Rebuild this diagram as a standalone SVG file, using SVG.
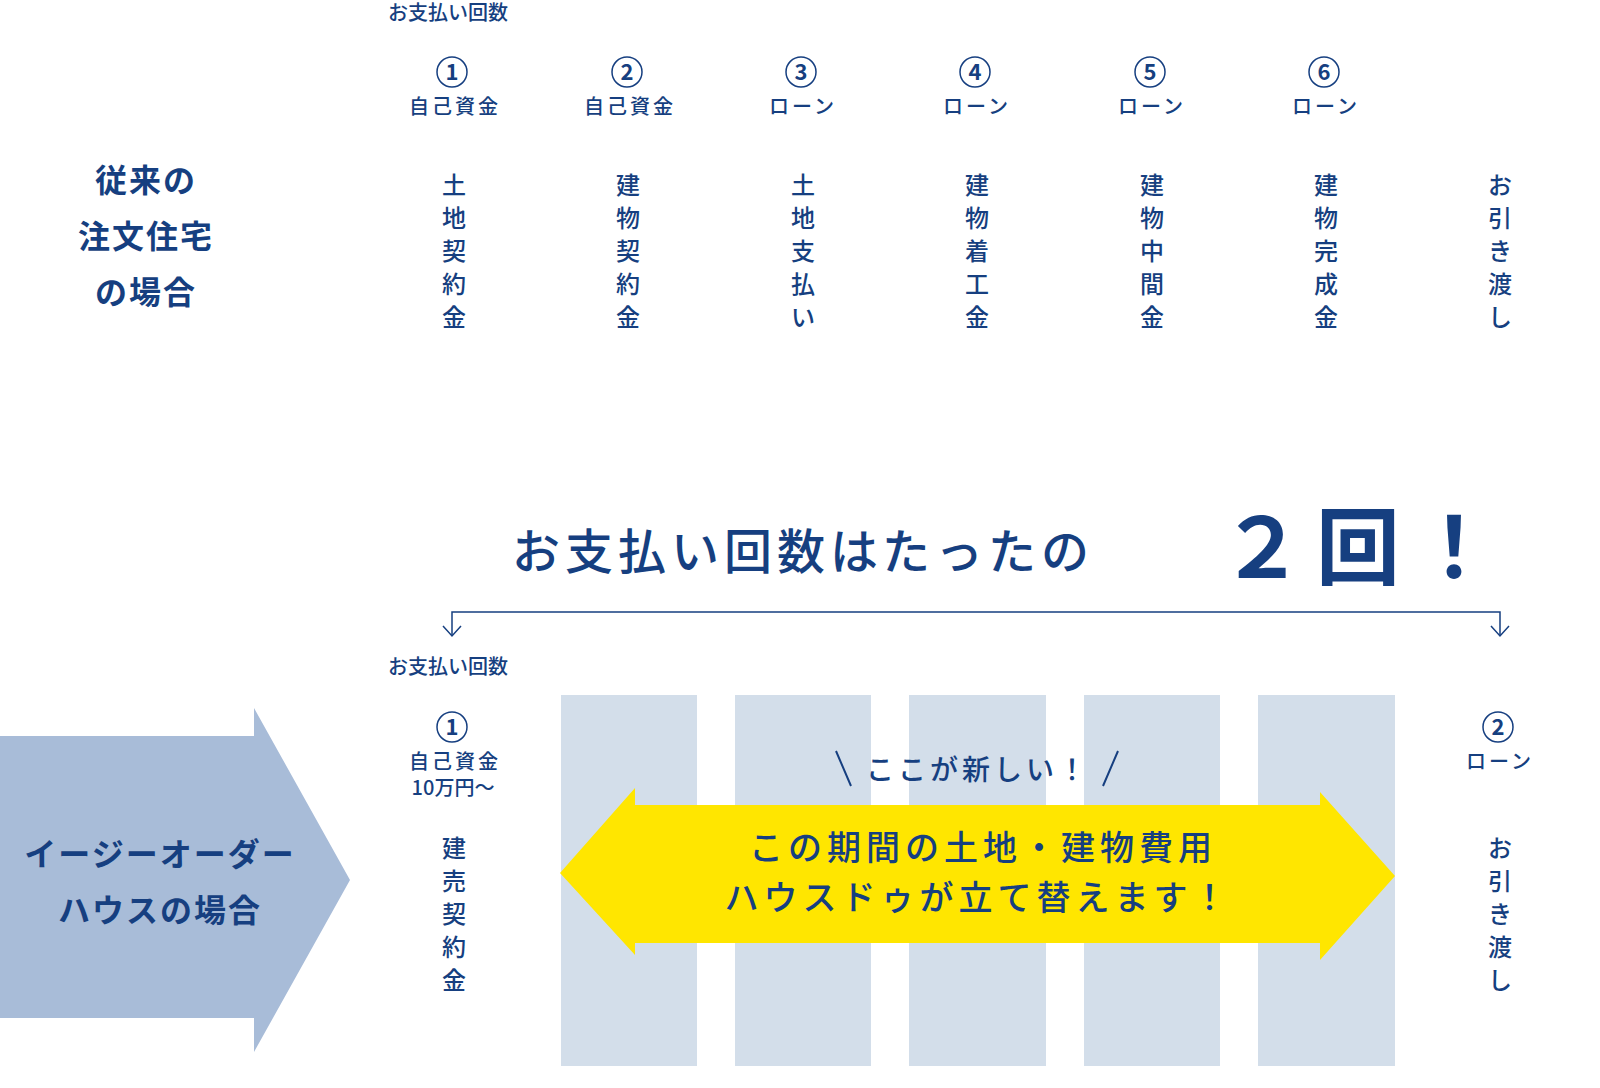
<svg xmlns="http://www.w3.org/2000/svg" width="1600" height="1088" viewBox="0 0 1600 1088">
<style>
text{font-family:"Noto Sans CJK JP","Noto Sans",sans-serif;fill:#163f80}
.s{font-size:20px;font-weight:500}
.l{font-size:20px;font-weight:500;letter-spacing:3px;text-anchor:middle}
.v{font-size:24px;font-weight:500;text-anchor:middle}
.n{font-size:22px;font-weight:700;text-anchor:middle}
.c{fill:none;stroke:#163f80;stroke-width:1.5}
.h{font-size:32px;font-weight:700;text-anchor:middle;letter-spacing:2px}
.bar{fill:#d3deea}
</style>
<rect width="1600" height="1088" fill="#fff"/>
<g id="top-label"><text x="146" y="192" class="h">従来の</text><text x="146" y="248" class="h">注文住宅</text><text x="146" y="304" class="h">の場合</text></g>
<text x="388" y="20" class="s">お支払い回数</text>
<g id="col1"><circle cx="452" cy="72" r="15" class="c"/><text x="452" y="80" class="n">1</text><text x="455" y="114" class="l">自己資金</text>
<text class="v" x="454"><tspan x="454" y="194">土</tspan><tspan x="454" y="227">地</tspan><tspan x="454" y="260">契</tspan><tspan x="454" y="293">約</tspan><tspan x="454" y="326">金</tspan></text></g>
<g id="col2"><circle cx="627" cy="72" r="15" class="c"/><text x="627" y="80" class="n">2</text><text x="630" y="114" class="l">自己資金</text>
<text class="v"><tspan x="628" y="194">建</tspan><tspan x="628" y="227">物</tspan><tspan x="628" y="260">契</tspan><tspan x="628" y="293">約</tspan><tspan x="628" y="326">金</tspan></text></g>
<g id="col3"><circle cx="801" cy="72" r="15" class="c"/><text x="801" y="80" class="n">3</text><text x="803" y="114" class="l">ローン</text>
<text class="v"><tspan x="803" y="194">土</tspan><tspan x="803" y="227">地</tspan><tspan x="803" y="260">支</tspan><tspan x="803" y="293">払</tspan><tspan x="803" y="326">い</tspan></text></g>
<g id="col4"><circle cx="975" cy="72" r="15" class="c"/><text x="975" y="80" class="n">4</text><text x="977" y="114" class="l">ローン</text>
<text class="v"><tspan x="977" y="194">建</tspan><tspan x="977" y="227">物</tspan><tspan x="977" y="260">着</tspan><tspan x="977" y="293">工</tspan><tspan x="977" y="326">金</tspan></text></g>
<g id="col5"><circle cx="1150" cy="72" r="15" class="c"/><text x="1150" y="80" class="n">5</text><text x="1152" y="114" class="l">ローン</text>
<text class="v"><tspan x="1152" y="194">建</tspan><tspan x="1152" y="227">物</tspan><tspan x="1152" y="260">中</tspan><tspan x="1152" y="293">間</tspan><tspan x="1152" y="326">金</tspan></text></g>
<g id="col6"><circle cx="1324" cy="72" r="15" class="c"/><text x="1324" y="80" class="n">6</text><text x="1326" y="114" class="l">ローン</text>
<text class="v"><tspan x="1326" y="194">建</tspan><tspan x="1326" y="227">物</tspan><tspan x="1326" y="260">完</tspan><tspan x="1326" y="293">成</tspan><tspan x="1326" y="326">金</tspan></text></g>
<g id="col7"><text class="v"><tspan x="1500" y="194">お</tspan><tspan x="1500" y="227">引</tspan><tspan x="1500" y="260">き</tspan><tspan x="1500" y="293">渡</tspan><tspan x="1500" y="326">し</tspan></text></g>
<g id="headline"><text x="512" y="569" style="font-size:48px;font-weight:500;letter-spacing:5px">お支払い回数はたったの</text>
<text x="1220" y="578" style="font-size:84px;font-weight:700;letter-spacing:12px">２回！</text></g>
<g id="connectors" fill="none" stroke="#163f80" stroke-width="1.5">
<path d="M452 636V612H1500V636"/><path d="M443 626L452 636L461 626M1491 626L1500 636L1509 626"/>
</g>
<g id="bars"><rect class="bar" x="561" y="695" width="136" height="371"/><rect class="bar" x="735" y="695" width="136" height="371"/><rect class="bar" x="909" y="695" width="137" height="371"/><rect class="bar" x="1084" y="695" width="136" height="371"/><rect class="bar" x="1258" y="695" width="137" height="371"/></g>
<g id="easy"><polygon points="0,736 254,736 254,708 350,880 254,1052 254,1018 0,1018" fill="#a8bcd8"/>
<text x="160" y="866" class="h">イージーオーダー</text><text x="160" y="922" class="h">ハウスの場合</text></g>
<text x="388" y="674" class="s">お支払い回数</text>
<g id="b1"><circle cx="452" cy="727" r="15" class="c"/><text x="452" y="735" class="n">1</text><text x="455" y="769" class="l">自己資金</text><text x="453" y="795" class="l" style="letter-spacing:0">10万円〜</text>
<text class="v"><tspan x="454" y="857">建</tspan><tspan x="454" y="890">売</tspan><tspan x="454" y="923">契</tspan><tspan x="454" y="956">約</tspan><tspan x="454" y="989">金</tspan></text></g>
<g id="b2"><circle cx="1498" cy="727" r="15" class="c"/><text x="1498" y="735" class="n">2</text><text x="1500" y="769" class="l">ローン</text>
<text class="v"><tspan x="1500" y="857">お</tspan><tspan x="1500" y="890">引</tspan><tspan x="1500" y="923">き</tspan><tspan x="1500" y="956">渡</tspan><tspan x="1500" y="989">し</tspan></text></g>
<g id="new"><path d="M836 751L851 786M1118 751L1103 786" stroke="#163f80" stroke-width="2"/>
<text x="978" y="780" style="font-size:28px;font-weight:500;letter-spacing:4px;text-anchor:middle">ここが新しい！</text></g>
<g id="yellow"><polygon points="560,873 635,788 635,805 1320,805 1320,792 1395,876 1320,960 1320,943 635,943 635,955" fill="#ffe600"/>
<text x="983" y="860" style="font-size:34px;font-weight:500;letter-spacing:5px;text-anchor:middle">この期間の土地・建物費用</text>
<text x="978" y="910" style="font-size:34px;font-weight:500;letter-spacing:5px;text-anchor:middle">ハウスドゥが立て替えます！</text></g>
</svg>
